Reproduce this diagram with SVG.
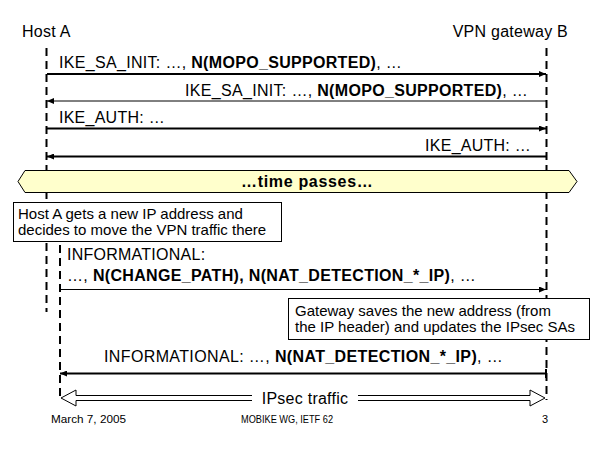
<svg xmlns="http://www.w3.org/2000/svg" width="600" height="450" viewBox="0 0 600 450">
<defs>
<style>
.t{font-family:"Liberation Sans",Arial,sans-serif;font-size:16px;letter-spacing:0.25px;fill:#000}
.b{font-weight:bold}
.s{font-family:"Liberation Sans",Arial,sans-serif;font-size:15px;fill:#000}
.f{font-family:"Liberation Sans",Arial,sans-serif;font-size:11px;fill:#000}
.life{stroke:#000;stroke-width:2;stroke-dasharray:8,5;fill:none}
.msg{stroke:#000;fill:none}
.box{fill:#fff;stroke:#000;stroke-width:1}
</style>
<marker id="ar" markerWidth="8" markerHeight="6" refX="7" refY="3" orient="auto" markerUnits="userSpaceOnUse">
<path d="M0,0 L7,3 L0,6 z" fill="#000"/>
</marker>
</defs>
<rect width="600" height="450" fill="#fff"/>
<g id="hostA">
<text class="t" x="22" y="37">Host A</text>
<line class="life" x1="46.5" y1="48" x2="46.5" y2="312"/>
</g>
<g id="gatewayB">
<text class="t" x="568" y="37" text-anchor="end">VPN gateway B</text>
<line class="life" x1="546.5" y1="48" x2="546.5" y2="400"/>
</g>
<g id="hostA-new">
<line class="life" x1="60" y1="245" x2="60" y2="400"/>
</g>
<g id="connectors">
<line class="msg" x1="47" y1="74" x2="546" y2="74" stroke-width="2" marker-end="url(#ar)"/>
<line class="msg" x1="546" y1="101" x2="47" y2="101" stroke-width="1" marker-end="url(#ar)"/>
<line class="msg" x1="47" y1="128.5" x2="546" y2="128.5" stroke-width="2" marker-end="url(#ar)"/>
<line class="msg" x1="546" y1="156.5" x2="47" y2="156.5" stroke-width="2" marker-end="url(#ar)"/>
<line class="msg" x1="60" y1="289.5" x2="546" y2="289.5" stroke-width="1" marker-end="url(#ar)"/>
<line class="msg" x1="546" y1="373.5" x2="60" y2="373.5" stroke-width="2" marker-end="url(#ar)"/>
<line x1="546" y1="369" x2="546" y2="378" stroke="#000" stroke-width="2"/>
<path d="M61,398 L76,390 L76,395.5 L530,395.5 L530,390 L545,398 L530,406 L530,400.5 L76,400.5 L76,406 z" fill="#fff" stroke="#000" stroke-width="1"/>
</g>
<g id="labels">
<text class="t" x="59" y="68" textLength="343" lengthAdjust="spacing">IKE_SA_INIT: …, <tspan class="b">N(MOPO_SUPPORTED)</tspan>, …</text>
<text class="t" x="185" y="96" textLength="343" lengthAdjust="spacing">IKE_SA_INIT: …, <tspan class="b">N(MOPO_SUPPORTED)</tspan>, …</text>
<text class="t" x="59" y="123">IKE_AUTH: …</text>
<text class="t" x="531" y="151" text-anchor="end">IKE_AUTH: …</text>
<text class="t" x="67" y="260">INFORMATIONAL:</text>
<text class="t" x="67" y="281" textLength="409" lengthAdjust="spacing">…, <tspan class="b">N(CHANGE_PATH), N(NAT_DETECTION_*_IP)</tspan>, …</text>
<text class="t" x="104" y="362" textLength="399" lengthAdjust="spacing">INFORMATIONAL: …, <tspan class="b">N(NAT_DETECTION_*_IP)</tspan>, …</text>
</g>
<g id="time-passes">
<path d="M18,181.5 L25,170.5 L569,170.5 L577,181.5 L569,192.5 L25,192.5 z" fill="#ffffcc" stroke="#000" stroke-width="1"/>
<text class="t b" x="241" y="187" textLength="132" lengthAdjust="spacing">…time passes…</text>
</g>
<g id="note-hostA">
<rect class="box" x="13.5" y="202.5" width="268" height="39"/>
<text class="s" x="18" y="219">Host A gets a new IP address and</text>
<text class="s" x="18" y="235">decides to move the VPN traffic there</text>
</g>
<g id="note-gateway">
<rect class="box" x="288.5" y="298.5" width="301" height="41"/>
<text class="s" x="295" y="316">Gateway saves the new address (from</text>
<text class="s" x="295" y="332">the IP header) and updates the IPsec SAs</text>
</g>
<g id="ipsec">
<rect x="252" y="390" width="106" height="16" fill="#fff"/>
<text class="t" x="305" y="404" text-anchor="middle">IPsec traffic</text>
</g>
<g id="footer">
<text class="f" x="51" y="423" textLength="75" lengthAdjust="spacingAndGlyphs">March 7, 2005</text>
<text class="f" x="241" y="423" textLength="92" lengthAdjust="spacingAndGlyphs" style="font-size:10.5px">MOBIKE WG, IETF 62</text>
<text class="f" x="548" y="423" text-anchor="end">3</text>
</g>
</svg>
